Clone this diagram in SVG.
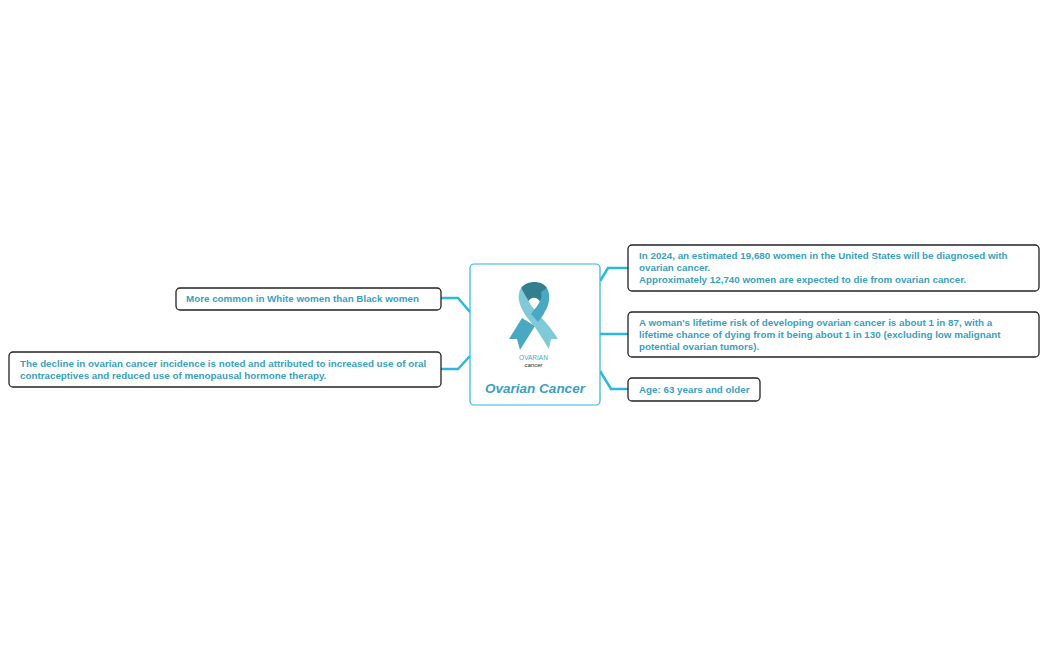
<svg xmlns="http://www.w3.org/2000/svg" width="1049" height="650" viewBox="0 0 1049 650">
<style>
.box{fill:#fff;stroke:#222;stroke-width:1.3}
.t{font-family:"Liberation Sans",Arial,sans-serif;font-weight:bold;font-size:9.8px;fill:#3a9fbf}
.c{fill:none;stroke:#2bb8dc;stroke-width:2.5}
</style>
<rect width="1049" height="650" fill="#fff"/>
<g id="connectors">
<path class="c" d="M600,281 L608,268 H628"/>
<path class="c" d="M600,334 H628"/>
<path class="c" d="M600,371 L611,389 H628"/>
<path class="c" d="M470,312 L458,298 H441"/>
<path class="c" d="M470,356 L458,369 H441"/>
</g>
<g id="center">
<rect x="470" y="264" width="130" height="141" rx="4" fill="#fff" stroke="#2bb8dc" stroke-width="1.2"/>
<path d="M522,318 L509,339 L517,339 L520,350 L535,326 Z" fill="#4aa9c2"/>
<path d="M521,288 C527,280 542,280 547,288 L541,303 C537,296 531,296 527,303 Z" fill="#347f8f"/>
<path d="M521,288 C514,300 524,315 535,327 L549,349 L551,339 L558,339 C548,322 533,311 528,300 Z" fill="#7fcad8"/>
<path d="M547,288 C553,300 546,312 538,322 L531,314 C537,306 543,300 541,292 Z" fill="#4aa9c2"/>
<text x="533.5" y="360" text-anchor="middle" font-family="Liberation Sans,Arial,sans-serif" font-size="6.5" fill="#4aa9c2">OVARIAN</text>
<text x="533.5" y="367" text-anchor="middle" font-family="Liberation Sans,Arial,sans-serif" font-size="6" font-style="italic" fill="#222">cancer</text>
<text x="535" y="393" text-anchor="middle" font-family="Liberation Sans,Arial,sans-serif" font-size="13.5" font-weight="bold" font-style="italic" fill="#3a9fbf">Ovarian Cancer</text>
</g>
<g id="r1"><rect class="box" x="628" y="245" width="411" height="46" rx="4"/>
<text class="t" x="639" y="259">In 2024, an estimated 19,680 women in the United States will be diagnosed with</text>
<text class="t" x="639" y="271">ovarian cancer.</text>
<text class="t" x="639" y="283">Approximately 12,740 women are expected to die from ovarian cancer.</text></g>
<g id="r2"><rect class="box" x="628" y="312" width="411" height="45" rx="4"/>
<text class="t" x="639" y="326">A woman's lifetime risk of developing ovarian cancer is about 1 in 87, with a</text>
<text class="t" x="639" y="338">lifetime chance of dying from it being about 1 in 130 (excluding low malignant</text>
<text class="t" x="639" y="350">potential ovarian tumors).</text></g>
<g id="r3"><rect class="box" x="628" y="378" width="132" height="23" rx="4"/>
<text class="t" x="639" y="393">Age: 63 years and older</text></g>
<g id="l1"><rect class="box" x="176" y="288" width="265" height="22" rx="4"/>
<text class="t" x="186" y="302">More common in White women than Black women</text></g>
<g id="l2"><rect class="box" x="9" y="352" width="432" height="35" rx="4"/>
<text class="t" x="20" y="367">The decline in ovarian cancer incidence is noted and attributed to increased use of oral</text>
<text class="t" x="20" y="379">contraceptives and reduced use of menopausal hormone therapy.</text></g>
</svg>
